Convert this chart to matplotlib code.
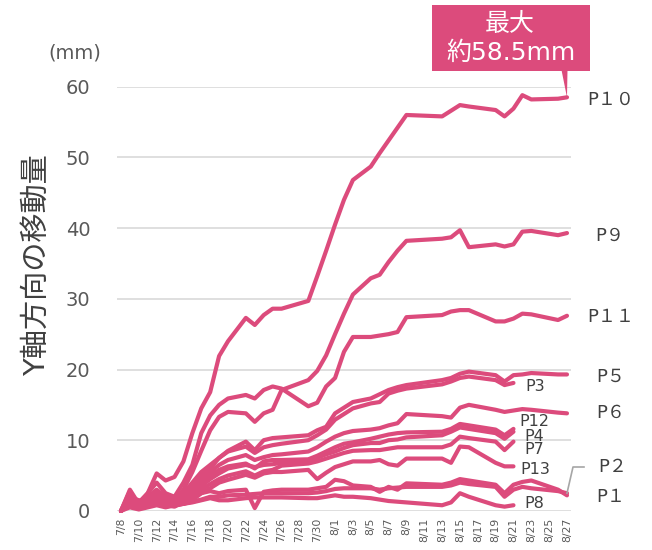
import numpy as np
import pandas as pd
import matplotlib
matplotlib.use("Agg")
import matplotlib.pyplot as plt
from matplotlib.patches import Polygon, Rectangle
from matplotlib.lines import Line2D

plt.rcParams['font.family'] = ['DejaVu Sans', 'Noto Sans CJK JP']

# measurement dates (year assumed 2024)
dates = ['7/8', '7/9', '7/10', '7/11', '7/12', '7/13', '7/14', '7/15', '7/16', '7/17',
         '7/18', '7/19', '7/20', '7/22', '7/23', '7/24', '7/25', '7/26', '7/29', '7/30',
         '7/31', '8/1', '8/2', '8/3', '8/5', '8/6', '8/7', '8/8', '8/9', '8/13',
         '8/14', '8/15', '8/16', '8/19', '8/20', '8/21', '8/22', '8/23', '8/26', '8/27']
nan = np.nan

p10 = [0, 3.0, 1.0, 2.5, 5.3, 4.3, 4.8, 7.0, 11.0, 14.5, 16.8, 21.9, 24.0, 27.3, 26.3, 27.7, 28.6, 28.6, 29.7, 33.2,
       36.8, 40.5, 44.0, 46.8, 48.7, 50.6, 52.4, 54.2, 56.0, 55.8, 56.6, 57.4, 57.2, 56.7, 55.8, 56.9, 58.8, 58.2, 58.3, 58.5]
p9 = [0, 2.5, 0.8, 2.0, 3.0, 2.0, 1.5, 3.0, 5.5, 8.5, 11.4, 13.3, 14.0, 13.8, 12.6, 13.8, 14.3, 17.1, 18.5, 19.8,
      22.0, 25.0, 27.9, 30.6, 32.9, 33.4, 35.2, 36.8, 38.2, 38.5, 38.7, 39.7, 37.3, 37.7, 37.4, 37.7, 39.5, 39.6, 39.0, 39.3]
p11 = [0, 1.5, 1.2, 2.5, 4.0, 2.5, 2.0, 4.0, 6.5, 11.0, 13.5, 15.0, 15.9, 16.4, 15.9, 17.1, 17.6, 17.3, 14.8, 15.3,
       17.6, 18.8, 22.5, 24.6, 24.6, 24.8, 25.0, 25.3, 27.4, 27.7, 28.2, 28.4, 28.4, 26.8, 26.8, 27.2, 27.9, 27.8, 27.0, 27.6]
p5 = [0, 2.0, 1.5, 1.5, 2.5, 2.0, 1.8, 2.5, 4.0, 5.5, 6.5, 7.5, 8.5, 9.8, 8.6, 10.0, 10.3, 10.4, 10.7, 11.4,
      11.9, 13.8, 14.6, 15.4, 15.9, 16.5, 17.1, 17.5, 17.8, 18.5, 18.8, 19.4, 19.7, 19.2, 18.3, 19.2, 19.3, 19.5, 19.3, 19.3]
p3 = [0, 1.0, 0.5, 1.5, 2.0, 1.5, 1.2, 2.0, 3.5, 5.0, 6.0, 7.5, 8.4, 9.1, 8.2, 9.0, 9.3, 9.5, 10.0, 10.7,
      11.5, 12.9, 13.7, 14.5, 15.2, 15.4, 16.6, 17.0, 17.3, 17.9, 18.3, 18.8, 19.0, 18.5, 17.8, 18.1, nan, nan, nan, nan]
p6 = [0, 1.5, 0.8, 1.0, 1.8, 1.2, 1.5, 2.0, 3.0, 4.5, 5.5, 6.5, 7.2, 7.9, 7.2, 7.6, 7.9, 8.0, 8.4, 9.0,
      9.8, 10.5, 11.0, 11.3, 11.5, 11.7, 12.1, 12.4, 13.7, 13.4, 13.2, 14.6, 15.0, 14.3, 14.0, 14.2, 14.4, 14.3, 13.9, 13.8]
p12 = [0, 1.2, 0.5, 1.2, 1.5, 1.0, 1.0, 1.8, 2.8, 4.0, 5.0, 5.8, 6.3, 6.7, 6.0, 7.0, 7.2, 7.2, 7.3, 7.8,
       8.4, 9.0, 9.5, 9.7, 10.2, 10.5, 10.8, 11.0, 11.1, 11.2, 11.6, 12.3, 12.1, 11.5, 10.7, 11.6, nan, nan, nan, nan]
p4 = [0, 0.8, 0.3, 1.0, 1.2, 0.8, 1.0, 1.5, 2.5, 3.5, 4.5, 5.3, 6.0, 6.5, 6.2, 6.5, 6.6, 6.8, 7.0, 7.5,
      8.0, 8.4, 8.9, 9.3, 9.6, 9.6, 10.0, 10.1, 10.4, 10.7, 11.2, 11.8, 11.6, 11.0, 10.2, 11.2, nan, nan, nan, nan]
p7 = [0, 1.0, 0.6, 0.8, 1.0, 0.8, 0.6, 1.2, 2.0, 3.0, 3.8, 4.5, 5.0, 5.6, 5.0, 5.6, 5.8, 6.4, 6.7, 7.0,
      7.4, 7.8, 8.2, 8.5, 8.6, 8.6, 8.8, 9.0, 9.0, 9.0, 9.4, 10.5, 10.3, 9.8, 8.6, 9.8, nan, nan, nan, nan]
p13 = [0, 1.5, 0.5, 1.5, 1.2, 1.0, 0.8, 1.0, 1.5, 2.5, 3.2, 4.0, 4.4, 5.1, 4.7, 5.3, 5.5, 5.5, 5.8, 4.5,
       5.4, 6.2, 6.6, 7.0, 7.0, 7.2, 6.6, 6.4, 7.4, 7.4, 6.8, 9.1, 9.0, 6.8, 6.3, 6.3, nan, nan, nan, nan]
p1 = [0, 2.8, 0.5, 1.5, 2.0, 1.5, 1.0, 1.5, 2.0, 2.5, 2.8, 2.5, 2.8, 3.0, 0.4, 2.7, 2.9, 3.0, 3.0, 3.2,
      3.4, 4.4, 4.2, 3.6, 3.4, 2.7, 3.4, 3.0, 3.9, 3.7, 4.0, 4.5, 4.3, 3.7, 2.5, 3.7, 4.1, 4.3, 3.0, 2.2]
p2 = [0, 1.0, 0.3, 0.8, 1.0, 0.6, 0.8, 1.0, 1.3, 1.6, 2.0, 2.0, 2.2, 2.3, 2.4, 2.5, 2.5, 2.5, 2.5, 2.6,
      2.8, 3.1, 3.2, 3.2, 3.2, 3.0, 3.2, 3.3, 3.4, 3.4, 3.6, 4.0, 3.8, 3.4, 2.0, 3.0, 3.4, 3.2, 2.8, 2.5]
p8 = [0, 0.5, 0.2, 0.5, 0.8, 0.5, 0.8, 1.0, 1.2, 1.5, 1.8, 1.5, 1.5, 1.8, 1.9, 1.9, 1.9, 1.9, 1.8, 1.8,
      2.0, 2.2, 2.0, 2.0, 1.8, 1.6, 1.4, 1.3, 1.2, 0.8, 1.2, 2.5, 2.0, 0.8, 0.6, 0.8, nan, nan, nan, nan]

names = ['P１', 'P２', 'P3', 'P4', 'P５', 'P６', 'P7', 'P8', 'P９', 'P１０', 'P１１', 'P12', 'P13']
series = [p1, p2, p3, p4, p5, p6, p7, p8, p9, p10, p11, p12, p13]

y_ticks = [0, 10, 20, 30, 40, 50, 60]
max_text = ['最大', '約58.5mm']

# label offsets from each series' last point, in pixels (right, down)
label_offset = {'P１': (29, 2), 'P２': (31, -26), 'P3': (12, 3.5), 'P4': (11, 4.5), 'P５': (29, 2.5),
                'P６': (29, 0), 'P7': (11, 8), 'P8': (11, -2), 'P９': (28, 3), 'P１０': (20, 2),
                'P１１': (20, 1), 'P12': (6, -7.5), 'P13': (7, 3.5)}

pink = '#dc4b7c'
W, H = 652, 550

x = pd.to_datetime(['2024/' + d for d in dates])

fig = plt.figure(figsize=(W / 100, H / 100), dpi=100)
ax = fig.add_axes([116.7 / W, 1 - 510.9 / H, (570.7 - 116.7) / W, (510.9 - 86.7) / H])

for name, vals in zip(names, series):
    ax.plot(x, vals, color=pink, lw=3, solid_joinstyle='round', solid_capstyle='round', clip_on=False)

ax.set_ylim(0, 60)
ax.set_xlim(x[0] - pd.Timedelta(hours=11.5), x[-1] + pd.Timedelta(hours=10))
ax.set_yticks(y_ticks)
ticks = pd.date_range(x[0], x[-1], freq='2D')
ax.set_xticks(ticks)
ax.set_xticklabels([f'{t.month}/{t.day}' for t in ticks], rotation=90, fontsize=7.8, color='#595959')
ax.tick_params(axis='y', length=0, pad=19, labelsize=14, labelcolor='#595959')
ax.tick_params(axis='x', length=0, pad=5)
ax.grid(axis='y', color='#d9d9d9', lw=1.2)
ax.set_axisbelow(True)
for s in ax.spines.values():
    s.set_visible(False)

# series labels at the right end of each line
for name, vals in zip(names, series):
    v = np.array(vals, dtype=float)
    i = np.where(~np.isnan(v))[0][-1]
    dx, dy = label_offset[name]
    size = 13 if i == len(v) - 1 else 11.5
    ax.annotate(name, xy=(x[i], v[i]), xytext=(dx * 0.72, -dy * 0.72), textcoords='offset points',
                ha='left', va='center', fontsize=size, color='#404040', annotation_clip=False)

fig.canvas.draw()
to_fig = fig.transFigure.inverted()

# leader line for P2
v2 = np.array(p2, dtype=float)
end2 = to_fig.transform(ax.transData.transform((matplotlib.dates.date2num(x[-1]), v2[-1])))
fig.add_artist(Line2D([end2[0], 573 / W, 584 / W], [end2[1], 1 - 467 / H, 1 - 467 / H],
                      transform=fig.transFigure, color='#a6a6a6', lw=1.2))

# callout box for the maximum
tip = to_fig.transform(ax.transData.transform((matplotlib.dates.date2num(x[-1]), p10[-1])))
fig.add_artist(Rectangle((431.7 / W, 1 - 71 / H), (590 - 431.7) / W, 66 / H,
                         transform=fig.transFigure, fc=pink, ec='none'))
fig.add_artist(Polygon([(561.5 / W, 1 - 70 / H), (567.5 / W, 1 - 70 / H), (tip[0], tip[1])],
                       closed=True, transform=fig.transFigure, fc=pink, ec='none'))
fig.text(510 / W, 1 - 24 / H, max_text[0], ha='center', va='center', fontsize=18, color='white')
fig.text(511 / W, 1 - 53 / H, max_text[1], ha='center', va='center', fontsize=18, color='white')

fig.text(37 / W, 1 - 265 / H, 'Y軸方向の移動量', rotation=90, ha='center', va='center',
         fontsize=21, color='#404040')
fig.text(75 / W, 1 - 53 / H, '(mm)', ha='center', va='center', fontsize=14, color='#595959')

fig.savefig('out.png', dpi=100)
